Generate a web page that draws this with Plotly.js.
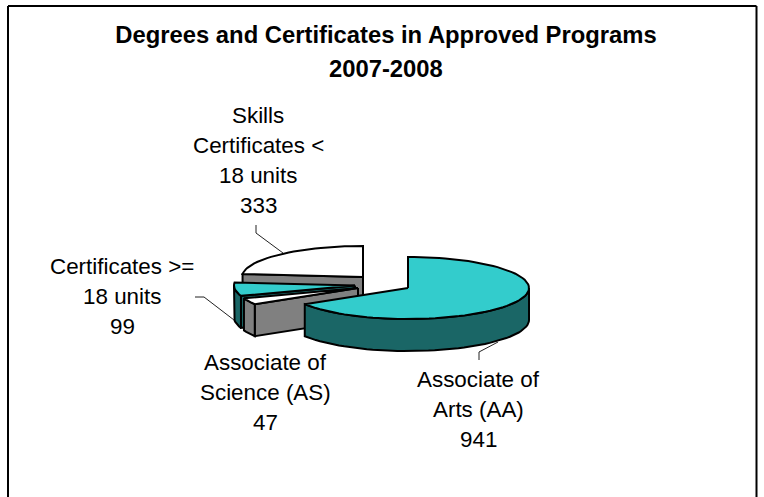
<!DOCTYPE html>
<html><head><meta charset="utf-8">
<script src="https://cdn.plot.ly/plotly-3.0.1.min.js"></script>
<style>html,body{margin:0;padding:0;background:#fff}</style></head>
<body><div id="chart" style="width:764px;height:497px"></div>
<script>
// Data, clockwise from 12 o'clock
const categories = ['Associate of Arts (AA)', 'Associate of Science (AS)', 'Certificates >= 18 units', 'Skills Certificates < 18 units'];
const values = [941, 47, 99, 333];
const topColors = ['#33CCCC', '#FFFFFF', '#33CCCC', '#FFFFFF'];
const sideColors = ['#1A6666', '#808080', '#1A6666', '#808080'];
const titleLines = ['Degrees and Certificates in Approved Programs', '2007-2008'];
const labelLines = [['Associate of', 'Arts (AA)'], ['Associate of', 'Science (AS)'], ['Certificates >=', '18 units'], ['Skills', 'Certificates <', '18 units']];

// Layout of the drawing (axis units equal page pixels)
const RX = 121, RY = 31, DEPTH = 32;
const sliceCentres = [[408, 288], [358, 288], [355, 285.5], [363, 277]];
const labelAnchors = [[478, 379], [265, 362], [122, 266], [258, 115]];
const LINE_GAP = 30;
const leaderLines = [
  [[479, 360], [479, 352], [498, 342]],
  [[195, 297], [204, 297], [234, 320]],
  [[256, 225], [256, 233], [283, 253]]
];

const total = values.reduce((a, b) => a + b, 0);
let cum = 0;
const slices = values.map((v, i) => {
  const a0 = cum / total * 360; cum += v;
  return {a0, a1: cum / total * 360, c: sliceCentres[i], top: topColors[i], side: sideColors[i]};
});
const rad = d => d * Math.PI / 180;
const pt = (c, a, dz) => [c[0] + RX * Math.sin(rad(a)), c[1] - RY * Math.cos(rad(a)) + dz];
const arc = (c, a0, a1, dz) => {
  const n = Math.max(2, Math.ceil(Math.abs(a1 - a0) / 3)), out = [];
  for (let k = 0; k <= n; k++) out.push(pt(c, a0 + (a1 - a0) * k / n, dz));
  return out;
};
const poly = (pts, fill) => ({
  type: 'scatter', mode: 'lines', x: pts.map(p => p[0]), y: pts.map(p => p[1]),
  fill: 'toself', fillcolor: fill, line: {color: '#000', width: 2}, hoverinfo: 'skip', showlegend: false
});
const traces = [];
// back to front
[3, 2, 1, 0].forEach(i => {
  const s = slices[i];
  // radial wall facing the viewer (the slice's clockwise start edge)
  if (i !== 0) {
    const e = pt(s.c, s.a0, 0);
    traces.push(poly([s.c, e, [e[0], e[1] + DEPTH], [s.c[0], s.c[1] + DEPTH], s.c], s.side));
  }
  // outer rim, front half only
  const lo = Math.max(s.a0, 90), hi = Math.min(s.a1, 270);
  if (hi > lo) {
    const t = arc(s.c, lo, hi, 0), b = arc(s.c, hi, lo, DEPTH);
    traces.push(poly([...t, ...b, t[0]], s.side));
  }
  traces.push(poly([s.c, ...arc(s.c, s.a0, s.a1, 0), s.c], s.top));
});
// leader lines
leaderLines.forEach(l => traces.push({
  type: 'scatter', mode: 'lines', x: l.map(p => p[0]), y: l.map(p => p[1]),
  line: {color: '#222', width: 1}, hoverinfo: 'skip', showlegend: false
}));

const FONT = 'Liberation Sans, Arial, sans-serif';
const annotations = [];
labelLines.forEach((lines, i) => {
  [...lines, String(values[i])].forEach((t, j) => annotations.push({
    xref: 'x', yref: 'y', x: labelAnchors[i][0], y: labelAnchors[i][1] + j * LINE_GAP,
    text: t, showarrow: false, xanchor: 'center', yanchor: 'middle',
    font: {family: FONT, size: 22.4, color: '#000'}
  }));
});
annotations.push({
  xref: 'x', yref: 'y', x: 386, y: 68, text: '<b>' + titleLines[1] + '</b>', showarrow: false,
  xanchor: 'center', yanchor: 'middle', font: {family: FONT, size: 23.8, color: '#000'}
});

Plotly.newPlot('chart', traces, {
  width: 764, height: 497, margin: {l: 0, r: 0, t: 0, b: 0},
  paper_bgcolor: '#fff', plot_bgcolor: '#fff', showlegend: false,
  title: {text: '<b>' + titleLines[0] + '</b>', x: 386 / 764, xanchor: 'center', y: 1 - 35 / 497, yanchor: 'middle',
          font: {family: FONT, size: 23.8, color: '#000'}},
  xaxis: {range: [0, 764], visible: false, fixedrange: true},
  yaxis: {range: [497, 0], visible: false, fixedrange: true},
  annotations,
  shapes: [
    {type: 'line', xref: 'x', yref: 'y', x0: 8, y0: 497, x1: 8, y1: 6, line: {color: '#000', width: 2}},
    {type: 'line', xref: 'x', yref: 'y', x0: 8, y0: 6, x1: 756.5, y1: 6, line: {color: '#000', width: 2}},
    {type: 'line', xref: 'x', yref: 'y', x0: 756.5, y0: 6, x1: 756.5, y1: 497, line: {color: '#000', width: 2}}
  ]
}, {displayModeBar: false, staticPlot: true});
</script></body></html>
